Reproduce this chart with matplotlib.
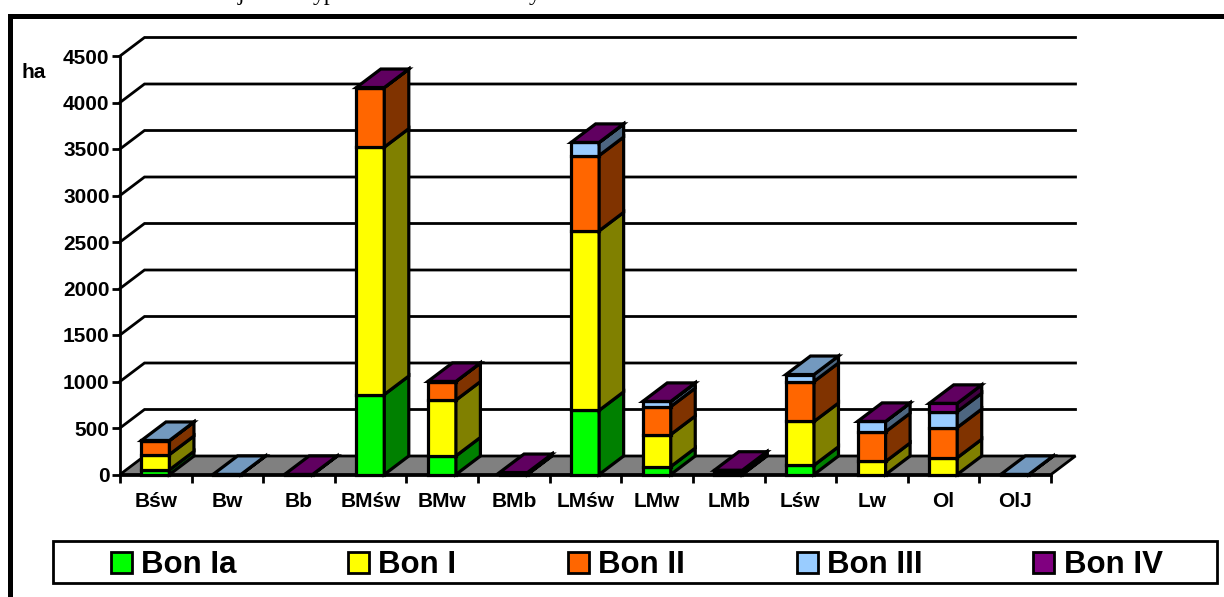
import matplotlib
matplotlib.use('Agg')
import matplotlib.pyplot as plt
from matplotlib.patches import Polygon, Rectangle
from matplotlib.lines import Line2D

plt.rcParams['font.family'] = ['Liberation Sans', 'DejaVu Sans']
plt.rcParams['font.weight'] = 'bold'

# Kategorien und Werte
categories = ['Bśw', 'Bw', 'Bb', 'BMśw', 'BMw', 'BMb', 'LMśw', 'LMw', 'LMb', 'Lśw', 'Lw', 'Ol', 'OlJ']
bon_ia = [50, 0, 0, 860, 200, 5, 690, 85, 5, 100, 0, 0, 0]
bon_i = [165, 0, 0, 2660, 600, 5, 1930, 345, 5, 470, 140, 180, 0]
bon_ii = [150, 0, 0, 640, 200, 5, 810, 300, 5, 430, 320, 325, 0]
bon_iii = [1, 1, 0, 0, 0, 5, 140, 55, 30, 75, 110, 170, 1]
bon_iv = [0, 0, 1, 1, 1, 1, 1, 1, 1, 0, 1, 90, 0]
series = [bon_ia, bon_i, bon_ii, bon_iii, bon_iv]
series_names = ['Bon Ia', 'Bon I', 'Bon II', 'Bon III', 'Bon IV']
y_ticks = [0, 500, 1000, 1500, 2000, 2500, 3000, 3500, 4000, 4500]

colors = ['#00ff00', '#ffff00', '#ff6600', '#99ccff', '#800080']
W, H = 1224, 597


def shade(color, f):
    r, g, b = matplotlib.colors.to_rgb(color)
    return (r * f, g * f, b * f)


fig = plt.figure(figsize=(W / 100, H / 100), dpi=100)
fig.patch.set_facecolor('white')
ax = fig.add_axes([120 / W, 1 - 474.5 / H, 931 / W, 418.5 / H])
ax.set_xlim(0, 13)
ax.set_ylim(0, 4500)
ax.patch.set_visible(False)

# Tiefe der 3D-Optik in Achseneinheiten
dx = 24.5 / (931 / 13)
dy = 18.5 / (418.5 / 4500)
bar_w = 28 / (931 / 13)
lw = 2.3

# Rueckwand-Linien
for t in y_ticks[1:]:
    ax.plot([0, dx, 13 + dx], [t, t + dy, t + dy], color='black', lw=2, clip_on=False, zorder=1,
            solid_joinstyle='miter')

# Boden
ax.add_patch(Polygon([(0, 0), (dx, dy), (13 + dx, dy), (13, 0)], closed=True, facecolor='#808080',
                     edgecolor='black', lw=2, clip_on=False, zorder=2))

# Saeulen
z = 3
for i in range(len(categories)):
    x0 = i + (1 - bar_w) / 2 - 0.005
    x1 = x0 + bar_w
    bottom = 0
    last = None
    for vals, c in zip(series, colors):
        v = vals[i]
        if v <= 0:
            continue
        top = bottom + v
        ax.add_patch(Rectangle((x0, bottom), bar_w, v, facecolor=c, edgecolor='black', lw=lw,
                               clip_on=False, zorder=z))
        ax.add_patch(Polygon([(x1, bottom), (x1 + dx, bottom + dy), (x1 + dx, top + dy), (x1, top)], closed=True,
                             facecolor=shade(c, 0.5), edgecolor='black', lw=lw, clip_on=False, zorder=z))
        bottom = top
        last = c
    if last is not None:
        ax.add_patch(Polygon([(x0, bottom), (x0 + dx, bottom + dy), (x1 + dx, bottom + dy), (x1, bottom)],
                             closed=True, facecolor=shade(last, 0.75), edgecolor='black', lw=lw,
                             clip_on=False, zorder=z))
    z += 1

# Achsen
for s in ['top', 'right']:
    ax.spines[s].set_visible(False)
for s in ['left', 'bottom']:
    ax.spines[s].set_linewidth(2)
    ax.spines[s].set_zorder(50)
ax.set_yticks(y_ticks)
ax.tick_params(axis='y', length=6, width=2, labelsize=15, pad=1.5)
ax.set_xticks(range(14))
ax.set_xticklabels([])
ax.set_xticks([i + 0.5 for i in range(13)], categories, minor=True)
ax.tick_params(axis='x', which='major', length=6, width=2)
ax.tick_params(axis='x', which='minor', length=0, labelsize=15, pad=12.5)

fig.text(34 / W, 1 - 72 / H, 'ha', fontsize=15, ha='center', va='center')

# Legende
fig.add_artist(Rectangle((53 / W, 1 - 583 / H), 1164 / W, 42 / H, transform=fig.transFigure, facecolor='white',
                         edgecolor='black', lw=2))
swatch_x = [111, 348, 568, 797, 1033]
label_x = [141, 378, 598, 827, 1064]
for sx, tx, name, c in zip(swatch_x, label_x, series_names, colors):
    fig.add_artist(Rectangle((sx / W, 1 - 573 / H), 21 / W, 21 / H, transform=fig.transFigure, facecolor=c,
                             edgecolor='black', lw=2))
    fig.text(tx / W, 1 - 565 / H, name, fontsize=22.5, ha='left', va='center')

# Rahmen
fig.add_artist(Line2D([10 / W, 10 / W, 1], [0, 1 - 15.5 / H, 1 - 15.5 / H], transform=fig.transFigure, color='black',
                      lw=3.6, solid_joinstyle='miter'))

# abgeschnittene Zeile ueber dem Rahmen
for tx, frag in zip([238, 313, 529], ['j', 'yp', 'y']):
    fig.text(tx / W, 1.0, frag, fontsize=17, family='Liberation Serif', weight='normal',
             ha='left', va='baseline')

fig.savefig('out.png', dpi=100)
